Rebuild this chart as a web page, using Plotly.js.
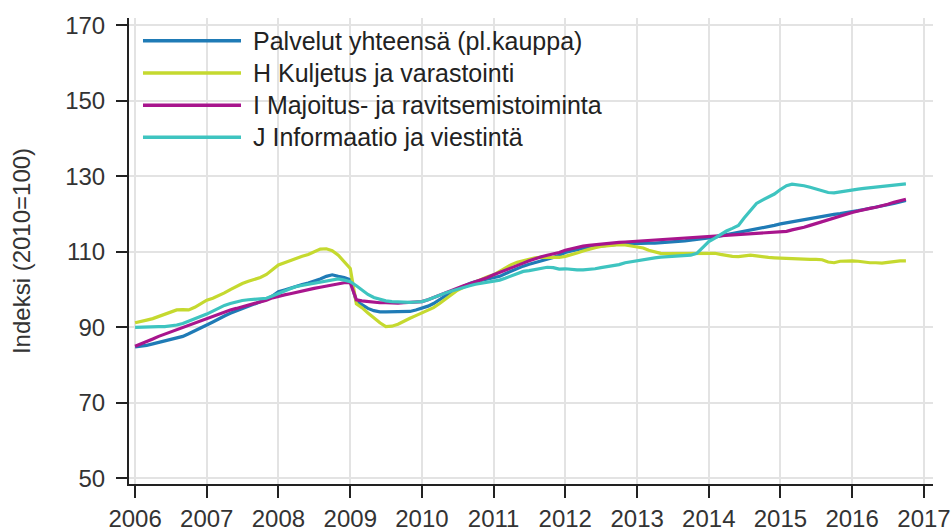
<!DOCTYPE html>
<html>
<head>
<meta charset="utf-8">
<script src="https://cdn.plot.ly/plotly-3.0.1.min.js"></script>
<style>
  html, body { margin: 0; padding: 0; background: #ffffff; }
  #chart { width: 952px; height: 532px; }
</style>
</head>
<body>
<div id="chart"></div>
<script>
// Monthly index values, Jan 2006 – Oct 2016 (2010=100)
const startYear = 2006;
const monthCount = 130;

const seriesNames = [
  "Palvelut yhteensä (pl.kauppa)",
  "H Kuljetus ja varastointi",
  "I Majoitus- ja ravitsemistoiminta",
  "J Informaatio ja viestintä"
];

const palvelut = [
  84.8, 85.0, 85.2, 85.6, 86.0, 86.3, 86.8, 87.3, 87.6, 88.3, 89.0, 89.8,
  90.6, 91.4, 92.2, 93.0, 93.7, 94.3, 94.9, 95.5, 96.1, 96.8, 97.4, 98.3,
  99.4, 99.9, 100.4, 100.8, 101.3, 101.7, 102.2, 102.8, 103.5, 103.9, 103.5, 103.2,
  102.6, 96.9, 96.0, 95.0, 94.4, 94.1, 94.1, 94.1, 94.1, 94.2, 94.2, 94.6,
  95.0, 95.6, 96.3, 97.3, 98.3, 99.4, 100.1, 100.9, 101.6, 102.1, 102.4, 102.7,
  103.0, 103.5, 104.2, 104.9, 105.6, 106.2, 106.7, 107.1, 107.5, 108.0, 108.5, 109.1,
  109.8, 110.2, 110.6, 110.9, 111.2, 111.4, 111.5, 111.7, 111.9, 112.0, 112.1, 112.2,
  112.2, 112.2, 112.3, 112.3, 112.4, 112.4, 112.5, 112.7, 112.9, 113.1, 113.3, 113.5,
  113.6, 113.9, 114.2, 114.5, 114.8, 115.1, 115.4, 115.7, 116.0, 116.3, 116.6, 117.0,
  117.4, 117.7, 118.0, 118.3, 118.6, 118.8, 119.0, 119.3, 119.6, 119.9, 120.1, 120.3,
  120.6, 120.9, 121.2, 121.5, 121.8, 122.1, 122.4, 122.8, 123.2, 123.6
];

const kuljetus = [
  91.2, 91.5, 91.9, 92.3, 92.9, 93.5, 94.1, 94.6, 94.7, 94.6, 95.3, 96.3,
  97.2, 97.7, 98.3, 99.1, 100.0, 100.9, 101.6, 102.2, 102.7, 103.2, 104.0, 105.3,
  106.5, 107.1, 107.7, 108.3, 108.8, 109.3, 109.9, 110.7, 110.8, 110.3, 109.1, 107.3,
  105.6, 96.2, 95.2, 93.8, 92.4, 91.2, 90.2, 90.3, 90.8, 91.7, 92.4, 93.1,
  93.8, 94.5, 95.2, 96.3, 97.4, 98.6, 99.8, 100.6, 101.3, 102.1, 102.8, 103.4,
  103.9, 104.8, 105.7, 106.6, 107.2, 107.7, 108.0, 108.4, 108.6, 108.5, 108.4, 108.5,
  108.8, 109.2, 109.7, 110.2, 110.7, 111.1, 111.4, 111.6, 111.8, 111.9, 111.8, 111.6,
  111.4, 111.0, 110.4, 109.9, 109.6, 109.5, 109.5, 109.4, 109.5, 109.6, 109.5, 109.4,
  109.4, 109.6, 109.3, 109.0, 108.8, 108.7, 108.8, 109.1, 108.9, 108.6, 108.5, 108.4,
  108.3, 108.2, 108.1, 108.1, 108.0, 108.0, 108.0, 107.9, 107.3, 107.1, 107.5, 107.6,
  107.6, 107.5, 107.3, 107.1, 107.1, 107.0, 107.2, 107.5, 107.6, 107.6
];

const majoitus = [
  85.0, 85.6, 86.3, 86.9, 87.6, 88.2, 88.8, 89.4, 90.0, 90.6, 91.2, 91.8,
  92.4, 93.0, 93.6, 94.1, 94.6, 95.0, 95.4, 95.8, 96.2, 96.6, 97.2, 97.8,
  98.3, 98.6, 98.9, 99.3, 99.6, 99.9, 100.3, 100.6, 100.9, 101.3, 101.6, 101.8,
  101.8, 97.3, 97.0, 96.8, 96.6, 96.5, 96.5, 96.4, 96.4, 96.5, 96.6, 96.7,
  96.8, 97.3, 97.9, 98.5, 99.2, 99.9, 100.5, 101.0, 101.5, 102.0, 102.5, 103.2,
  103.9, 104.5, 105.0, 105.6, 106.3, 107.0, 107.6, 108.2, 108.7, 109.1, 109.4, 109.8,
  110.4, 110.8, 111.2, 111.5, 111.7, 111.9, 112.0, 112.1, 112.3, 112.5, 112.6, 112.7,
  112.8, 112.9, 113.0, 113.0, 113.1, 113.2, 113.3, 113.5, 113.6, 113.7, 113.8, 113.9,
  114.0, 114.1, 114.2, 114.3, 114.4, 114.4, 114.5, 114.6, 114.7, 114.8, 114.9, 115.0,
  115.1, 115.4, 115.8, 116.1, 116.5, 117.0, 117.5, 118.0, 118.5, 118.9, 119.4, 119.9,
  120.4, 120.8, 121.2, 121.5, 121.8, 122.1, 122.6, 123.1, 123.5, 123.9
];

const informaatio = [
  90.0, 90.1, 90.1, 90.2, 90.2, 90.2, 90.3, 90.6, 91.0, 91.6, 92.3, 92.9,
  93.5, 94.3, 95.1, 95.8, 96.3, 96.8, 97.1, 97.3, 97.4, 97.4, 97.7, 98.3,
  99.0, 99.6, 100.2, 100.8, 101.1, 101.4, 101.7, 102.0, 102.4, 102.7, 102.8, 102.5,
  102.1, 101.0, 99.8, 98.7, 97.9, 97.4, 97.0, 96.8, 96.7, 96.6, 96.6, 96.7,
  96.8, 97.3, 97.9, 98.5, 99.1, 99.6, 100.1, 100.6, 101.0, 101.4, 101.7, 101.9,
  102.1, 102.5, 103.0, 103.6, 104.3, 104.8, 105.0, 105.3, 105.6, 105.9, 105.8, 105.4,
  105.5, 105.3, 105.2, 105.2, 105.3, 105.5, 105.8, 106.0, 106.2, 106.6, 107.1, 107.4,
  107.6, 107.9, 108.2, 108.4, 108.6, 108.7, 108.8, 108.9, 109.0, 109.1, 109.6, 111.0,
  112.7, 113.6, 114.6, 115.5, 116.2, 117.0, 119.0, 121.0, 122.8, 123.7, 124.4, 125.3,
  126.5, 127.5, 127.9, 127.8, 127.5, 127.1, 126.6, 126.2, 125.7, 125.6, 125.8, 126.1,
  126.3, 126.6, 126.8, 127.0, 127.2, 127.3, 127.5, 127.7, 127.8, 128.0
];

const yTickVals = [50, 70, 90, 110, 130, 150, 170];
const yTitle = "Indeksi (2010=100)";

const seriesValues = [palvelut, kuljetus, majoitus, informaatio];
const seriesColors = ["#1f7bb6", "#c5d92f", "#a8158d", "#3ec4c0"];

// month dates
const months = [];
for (let i = 0; i < monthCount; i++) {
  const y = startYear + Math.floor(i / 12);
  const m = (i % 12) + 1;
  months.push(y + "-" + (m < 10 ? "0" + m : m) + "-01");
}

const traces = seriesValues.map((vals, i) => ({
  type: "scatter",
  mode: "lines",
  name: seriesNames[i],
  x: months,
  y: vals,
  line: { color: seriesColors[i], width: 3.2 },
  showlegend: false,
  hoverinfo: "x+y+name"
}));

// Manual legend (long line samples like the reference)
const legendY = [0.951, 0.882, 0.813, 0.744];
const shapes = [];
const annotations = [];
seriesNames.forEach((nm, i) => {
  shapes.push({
    type: "line", xref: "paper", yref: "paper",
    x0: 0.0174, x1: 0.1393, y0: legendY[i], y1: legendY[i],
    line: { color: seriesColors[i], width: 3.5 }
  });
  annotations.push({
    xref: "paper", yref: "paper", x: 0.152, y: legendY[i],
    xanchor: "left", yanchor: "middle", showarrow: false,
    text: nm,
    font: { family: "Liberation Sans, Arial, sans-serif", size: 25, color: "#222222" }
  });
});

const layout = {
  width: 952,
  height: 532,
  margin: { l: 129, r: 19, t: 18, b: 48 },
  paper_bgcolor: "#ffffff",
  plot_bgcolor: "#ffffff",
  font: { family: "Liberation Sans, Arial, sans-serif", size: 24, color: "#333333" },
  showlegend: false,
  xaxis: {
    type: "date",
    range: ["2005-12-01", "2017-02-16"],
    tick0: "2006-01-01",
    dtick: "M12",
    tickformat: "%Y",
    showgrid: true,
    gridcolor: "#e3e3e3",
    gridwidth: 2,
    zeroline: false,
    showline: true,
    linecolor: "#222222",
    linewidth: 2,
    ticks: "outside",
    ticklen: 12,
    tickwidth: 2,
    tickcolor: "#222222",
    tickfont: { size: 24, color: "#333333" }
  },
  yaxis: {
    range: [48.49, 171.93],
    tickvals: yTickVals,
    ticktext: yTickVals.map(String),
    showgrid: true,
    gridcolor: "#e3e3e3",
    gridwidth: 2,
    zeroline: false,
    showline: true,
    linecolor: "#222222",
    linewidth: 2,
    ticks: "outside",
    ticklen: 11,
    tickwidth: 2,
    tickcolor: "#222222",
    ticklabelstandoff: 6,
    tickfont: { size: 24, color: "#333333" },
    title: { text: yTitle, standoff: 28, font: { size: 24, color: "#333333" } }
  },
  shapes: shapes,
  annotations: annotations
};

Plotly.newPlot("chart", traces, layout, { displayModeBar: false, responsive: false });
</script>
</body>
</html>
